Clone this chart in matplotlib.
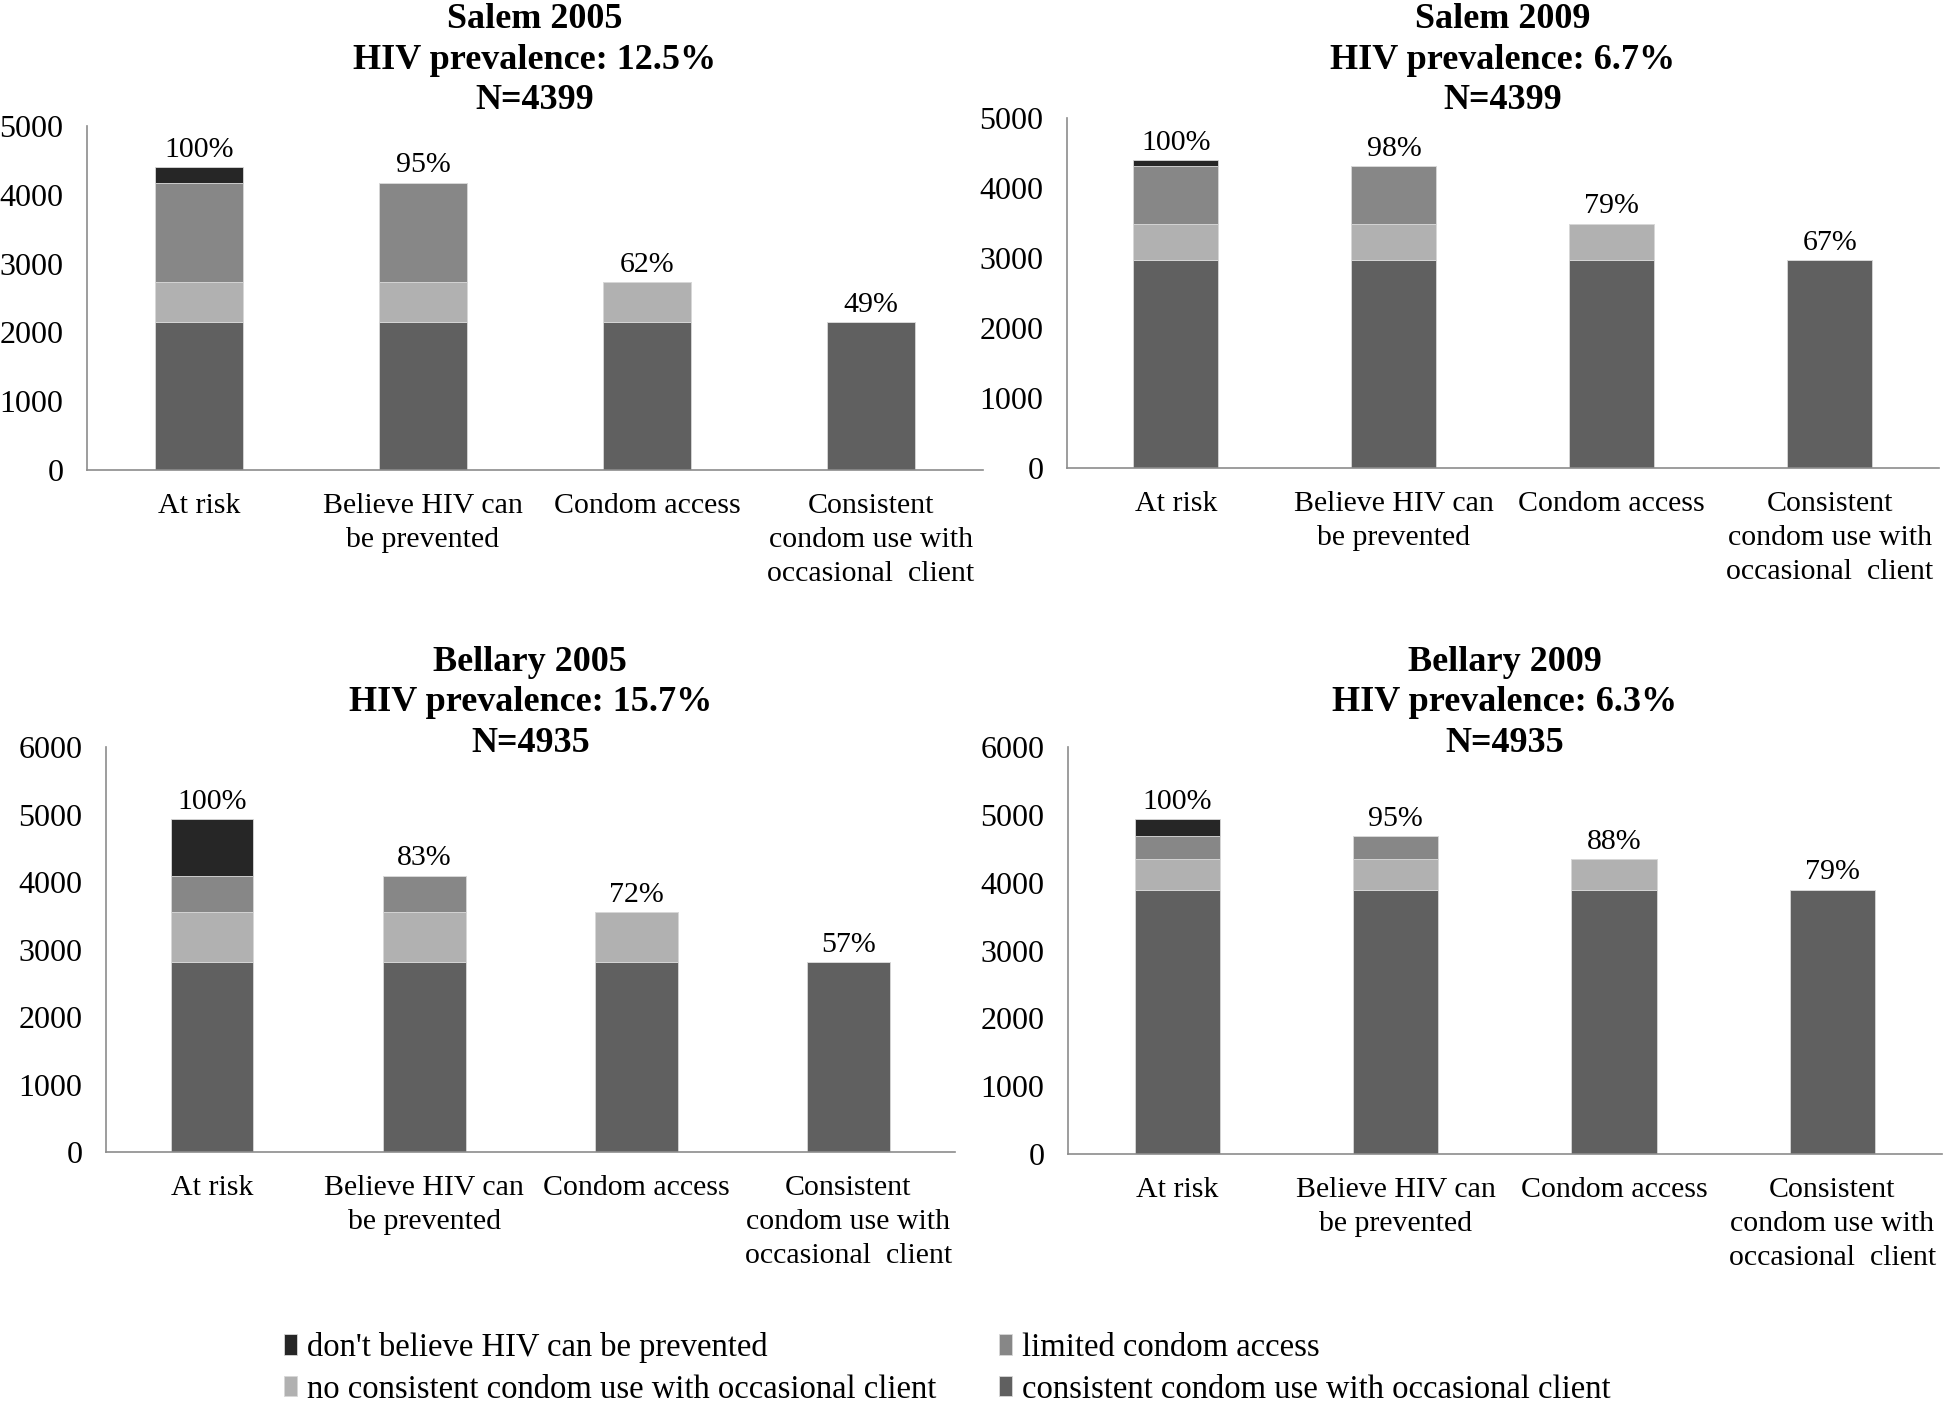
import matplotlib.pyplot as plt
import numpy as np

plt.rcParams["font.family"] = ["Liberation Serif", "DejaVu Serif"]

categories = [
    "At risk",
    "Believe HIV can\nbe prevented",
    "Condom access",
    "Consistent\ncondom use with\noccasional  client",
]
series_names = [
    "consistent condom use with occasional client",
    "no consistent condom use with occasional client",
    "limited condom access",
    "don't believe HIV can be prevented",
]
series_colors = ["#606060", "#b1b1b1", "#878787", "#262626"]

# Salem 2005 (N=4399)
salem05_consistent = [2156, 2156, 2156, 2156]
salem05_no_consistent = [571, 571, 571, 0]
salem05_limited = [1452, 1452, 0, 0]
salem05_dont_believe = [220, 0, 0, 0]
salem05_pct = ["100%", "95%", "62%", "49%"]

# Salem 2009 (N=4399)
salem09_consistent = [2965, 2965, 2965, 2965]
salem09_no_consistent = [525, 525, 525, 0]
salem09_limited = [825, 825, 0, 0]
salem09_dont_believe = [84, 0, 0, 0]
salem09_pct = ["100%", "98%", "79%", "67%"]

# Bellary 2005 (N=4935)
bellary05_consistent = [2813, 2813, 2813, 2813]
bellary05_no_consistent = [740, 740, 740, 0]
bellary05_limited = [543, 543, 0, 0]
bellary05_dont_believe = [839, 0, 0, 0]
bellary05_pct = ["100%", "83%", "72%", "57%"]

# Bellary 2009 (N=4935)
bellary09_consistent = [3899, 3899, 3899, 3899]
bellary09_no_consistent = [444, 444, 444, 0]
bellary09_limited = [345, 345, 0, 0]
bellary09_dont_believe = [247, 0, 0, 0]
bellary09_pct = ["100%", "95%", "88%", "79%"]

# title, stacks, labels, y max, axes rect, title centre y (figure fraction)
panels = [
    ("Salem 2005\nHIV prevalence: 12.5%\nN=4399",
     [salem05_consistent, salem05_no_consistent, salem05_limited, salem05_dont_believe],
     salem05_pct, 5000, [0.0447, 0.6645, 0.4604, 0.2455], 0.957),
    ("Salem 2009\nHIV prevalence: 6.7%\nN=4399",
     [salem09_consistent, salem09_no_consistent, salem09_limited, salem09_dont_believe],
     salem09_pct, 5000, [0.5483, 0.666, 0.448, 0.2498], 0.957),
    ("Bellary 2005\nHIV prevalence: 15.7%\nN=4935",
     [bellary05_consistent, bellary05_no_consistent, bellary05_limited, bellary05_dont_believe],
     bellary05_pct, 6000, [0.0545, 0.1777, 0.436, 0.289], 0.4985),
    ("Bellary 2009\nHIV prevalence: 6.3%\nN=4935",
     [bellary09_consistent, bellary09_no_consistent, bellary09_limited, bellary09_dont_believe],
     bellary09_pct, 6000, [0.5488, 0.1763, 0.449, 0.2905], 0.4985),
]

fig = plt.figure(figsize=(19.46, 14.01), dpi=100)
x = np.arange(len(categories))
handles = []

for title, stacks, pct, ymax, rect, title_y in panels:
    ax = fig.add_axes(rect)
    bottom = np.zeros(len(categories))
    bars = []
    for vals, color in zip(stacks, series_colors):
        vals = np.array(vals, dtype=float)
        b = ax.bar(x, vals, width=0.39, bottom=bottom, color=color,
                   edgecolor="#d8d8d8", linewidth=0.6)
        bars.append(b)
        bottom = bottom + vals
    handles = bars

    for xi, top, label in zip(x, bottom, pct):
        ax.annotate(label, (xi, top), xytext=(0, 3), textcoords="offset points",
                    ha="center", va="bottom", fontsize=21.5)

    ax.set_xlim(-0.5, len(categories) - 0.5)
    ax.set_ylim(0, ymax)
    ax.set_yticks(np.arange(0, ymax + 1, 1000))
    ax.set_xticks(x)
    ax.set_xticklabels(categories, fontsize=21.5, linespacing=1.4)
    ax.tick_params(axis="y", labelsize=23, length=0, pad=17)
    ax.tick_params(axis="x", length=0, pad=16.5)
    for side in ["top", "right"]:
        ax.spines[side].set_visible(False)
    for side in ["left", "bottom"]:
        ax.spines[side].set_color("#8c8c8c")
        ax.spines[side].set_linewidth(1.2)

    fig.text(rect[0] + rect[2] / 2, title_y, title, ha="center", va="center",
             fontsize=26, fontweight="bold", linespacing=1.3)

# legend fills column-wise: row 1 = don't believe / limited, row 2 = no consistent / consistent
legend_order = [3, 1, 2, 0]
fig.legend([handles[i] for i in legend_order], [series_names[i] for i in legend_order],
           loc="upper left", bbox_to_anchor=(0.146, 0.049), ncol=2, frameon=False,
           fontsize=23.5, handlelength=0.4, handleheight=0.6, handletextpad=0.3,
           columnspacing=1.93, labelspacing=0.33, borderpad=0, borderaxespad=0)

fig.savefig("out.png", dpi=100, facecolor="white")
